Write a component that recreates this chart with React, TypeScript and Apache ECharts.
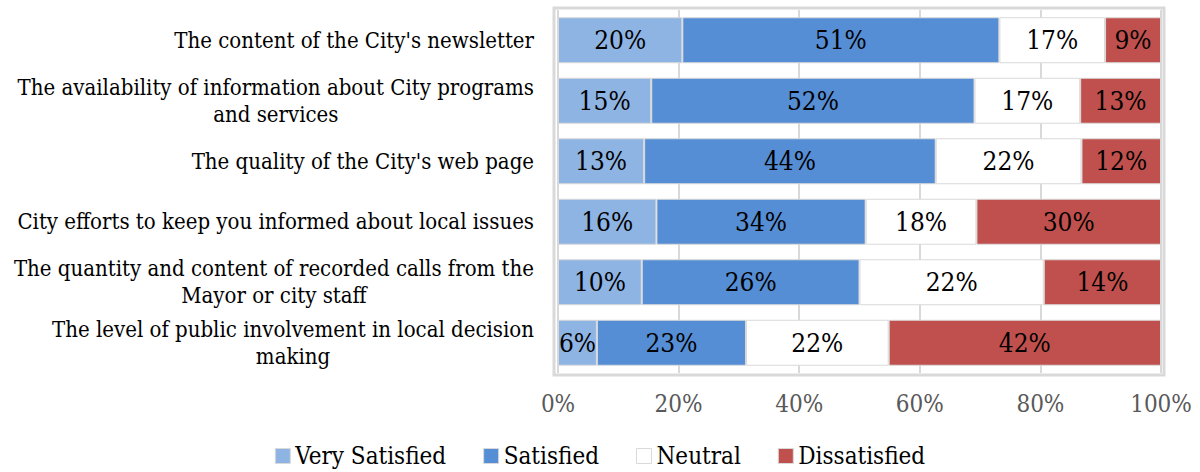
import React, { useEffect, useRef } from "react";
import * as echarts from "echarts";

const categories = [
  "The content of the City's newsletter",
  "The availability of information about City programs\nand services",
  "The quality of the City's web page",
  "City efforts to keep you informed about local issues",
  "The quantity and content of recorded calls from the\nMayor or city staff",
  "The level of public involvement in local decision\nmaking",
];
const seriesNames = ["Very Satisfied", "Satisfied", "Neutral", "Dissatisfied"];
const verySatisfied = [20, 15, 13, 16, 10, 6];
const satisfied = [51, 52, 44, 34, 26, 23];
const neutral = [17, 17, 22, 18, 22, 22];
const dissatisfied = [9, 13, 12, 30, 14, 42];
const xTicks = ["0%", "20%", "40%", "60%", "80%", "100%"];

const colors = ["#8EB4E3", "#558ED5", "#FFFFFF", "#C0504D"];
const FONT = "'DejaVu Serif Condensed', 'Liberation Serif', serif";

export default function App() {
  const ref = useRef<HTMLDivElement>(null);
  useEffect(() => {
    if (!ref.current) return;
    const chart = echarts.init(ref.current, null, { renderer: "svg" });
    const raw = [verySatisfied, satisfied, neutral, dissatisfied];
    const totals = categories.map((_, i) => raw.reduce((s, arr) => s + arr[i], 0));
    const series = raw.map((arr, k) => ({
      name: seriesNames[k],
      type: "bar",
      stack: "total",
      barCategoryGap: "24%",
      itemStyle: { color: colors[k], borderColor: "#d9d9d9", borderWidth: 1 },
      label: {
        show: true,
        position: "inside",
        color: "#000",
        fontFamily: FONT,
        fontSize: 26,
        formatter: (p: any) => arr[p.dataIndex] + "%",
      },
      data: arr.map((v, i) => (v / totals[i]) * 100),
    }));
    chart.setOption({
      animation: false,
      backgroundColor: "#fff",
      textStyle: { fontFamily: FONT },
      graphic: [
        {
          type: "rect",
          z: -1,
          shape: { x: 554, y: 8, width: 610, height: 367 },
          style: { fill: "none", stroke: "#d9d9d9", lineWidth: 3 },
        },
      ],
      grid: { left: 558, right: 39, top: 10, bottom: 99, containLabel: false },
      legend: {
        bottom: -1,
        left: "center",
        itemWidth: 15,
        itemHeight: 15,
        itemGap: 37,
        icon: "rect",
        textStyle: { fontFamily: FONT, fontSize: 24, color: "#000" },
        data: seriesNames.map((n) => ({ name: n, itemStyle: { borderColor: "#d9d9d9", borderWidth: 1 } })),
      },
      xAxis: {
        type: "value",
        min: 0,
        max: 100,
        interval: 20,
        axisLine: { show: false },
        axisTick: { show: false },
        splitLine: { show: true, lineStyle: { color: "#d9d9d9", width: 2 } },
        axisLabel: {
          margin: 19,
          color: "#595959",
          fontFamily: FONT,
          fontSize: 24,
          formatter: (v: number) => xTicks[Math.round(v / 20)],
        },
      },
      yAxis: {
        type: "category",
        inverse: true,
        data: categories,
        axisLine: { show: false },
        axisTick: { show: false },
        axisLabel: {
          margin: 24,
          color: "#000",
          fontFamily: FONT,
          fontSize: 22,
          lineHeight: 27,
          align: "right",
          formatter: (v: string) => v.split("\n").map((l) => "{c|" + l + "}").join("\n"),
          rich: { c: { align: "center", fontFamily: FONT, fontSize: 22, lineHeight: 27, color: "#000" } },
        },
      },
      series,
    });
    return () => chart.dispose();
  }, []);
  return <div ref={ref} style={{ position: "absolute", left: 0, top: 0, width: 1200, height: 472 }} />;
}
